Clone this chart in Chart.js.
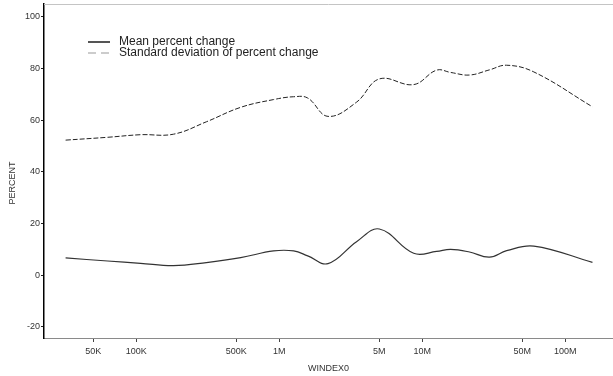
<!DOCTYPE html>
<html lang="en">
<head>
    <meta charset="UTF-8">
    <title>Percent change by WINDEX0</title>
    <script src="https://cdn.jsdelivr.net/npm/chart.js"></script>
    <style>
        body { margin: 0; background: #fff; }
        #wrap { width: 613px; height: 376px; }
    </style>
</head>
<body>
    <div id="wrap">
        <canvas id="myChart" width="613" height="376"></canvas>
    </div>

    <script>
        // Data
        const windex = [32000, 63000, 107000, 182000, 309000, 537000, 912000, 1260000, 1580000, 2190000,
                        3470000, 5010000, 8710000, 12600000, 15800000, 21400000, 29500000, 38900000, 60300000, 155000000];
        const meanChange = [6.7, 5.5, 4.6, 3.7, 4.9, 6.8, 9.4, 9.4, 7.5, 4.5,
                            13, 17.9, 8.5, 9.2, 10, 9, 7, 9.5, 11.3, 5];
        const sdChange = [52.3, 53.4, 54.4, 54.6, 59.4, 65, 68, 69.1, 68.6, 61.5,
                          67, 76, 73.8, 79.4, 78.5, 77.5, 79.5, 81.3, 78.7, 65.2];

        const xTicks = [50000, 100000, 500000, 1000000, 5000000, 10000000, 50000000, 100000000];
        const xTickLabels = ['50K', '100K', '500K', '1M', '5M', '10M', '50M', '100M'];
        const yTicks = [-20, 0, 20, 40, 60, 80, 100];

        const seriesNames = ['Mean percent change', 'Standard deviation of percent change'];

        const FONT = '"Liberation Sans", Arial, sans-serif';

        // Titles and legend drawn on top of the plot
        const decorPlugin = {
            id: 'decor',
            afterDraw(chart) {
                const ctx = chart.ctx;
                const area = chart.chartArea;
                ctx.save();

                // top border line
                ctx.strokeStyle = '#c4c4c4';
                ctx.lineWidth = 1;
                ctx.beginPath();
                ctx.moveTo(area.left, area.top + 0.5);
                ctx.lineTo(area.right, area.top + 0.5);
                ctx.stroke();

                // axis titles
                ctx.fillStyle = '#333';
                ctx.font = '9px ' + FONT;
                ctx.textAlign = 'center';
                ctx.textBaseline = 'middle';
                ctx.fillText('WINDEX0', (area.left + area.right) / 2, 369);
                ctx.translate(13, 183);
                ctx.rotate(-Math.PI / 2);
                ctx.fillText('PERCENT', 0, 0);
                ctx.setTransform(1, 0, 0, 1, 0, 0);

                // legend
                const lx = 88, ly = 42;
                ctx.lineWidth = 2;
                ctx.strokeStyle = '#555';
                ctx.beginPath();
                ctx.moveTo(lx, ly);
                ctx.lineTo(lx + 22, ly);
                ctx.stroke();
                ctx.lineWidth = 1;
                ctx.strokeStyle = '#999';
                ctx.setLineDash([8, 5]);
                ctx.beginPath();
                ctx.moveTo(lx, ly + 11);
                ctx.lineTo(lx + 22, ly + 11);
                ctx.stroke();
                ctx.setLineDash([]);

                ctx.font = '12px ' + FONT;
                ctx.fillStyle = '#222';
                ctx.textAlign = 'left';
                ctx.fillText(seriesNames[0], 119, ly);
                ctx.fillText(seriesNames[1], 119, ly + 11);
                ctx.restore();
            }
        };

        const ctx = document.getElementById('myChart').getContext('2d');
        new Chart(ctx, {
            type: 'line',
            data: {
                datasets: [
                    {
                        label: seriesNames[0],
                        data: windex.map((x, i) => ({ x: x, y: meanChange[i] })),
                        borderColor: '#333',
                        borderWidth: 1.2,
                        pointRadius: 0,
                        tension: 0.4,
                        fill: false
                    },
                    {
                        label: seriesNames[1],
                        data: windex.map((x, i) => ({ x: x, y: sdChange[i] })),
                        borderColor: '#222',
                        borderWidth: 1,
                        borderDash: [5, 2],
                        pointRadius: 0,
                        tension: 0.4,
                        fill: false
                    }
                ]
            },
            options: {
                responsive: false,
                animation: false,
                layout: { padding: { top: 4, right: 0, left: 0, bottom: 0 } },
                plugins: {
                    legend: { display: false },
                    tooltip: { enabled: false }
                },
                scales: {
                    x: {
                        type: 'logarithmic',
                        min: 22600,
                        max: 215800000,
                        afterBuildTicks: scale => { scale.ticks = xTicks.map(v => ({ value: v })); },
                        afterFit: scale => {
                            scale.height = 38;
                            scale.paddingLeft = 0;
                            scale.paddingRight = 0;
                        },
                        grid: { drawOnChartArea: false, drawTicks: true, tickLength: 4, color: '#444' },
                        border: { color: '#8a8a8a', width: 1 },
                        ticks: {
                            autoSkip: false,
                            maxRotation: 0,
                            padding: 4,
                            color: '#333',
                            font: { family: FONT, size: 9 },
                            callback: (v, i) => xTickLabels[i]
                        }
                    },
                    y: {
                        min: -24.3,
                        max: 105,
                        afterBuildTicks: scale => { scale.ticks = yTicks.map(v => ({ value: v })); },
                        afterFit: scale => {
                            scale.width = 44;
                            scale.paddingTop = 0;
                            scale.paddingBottom = 0;
                        },
                        grid: { drawOnChartArea: false, drawTicks: true, tickLength: 3, color: '#222' },
                        border: { color: '#000', width: 1.5 },
                        ticks: {
                            padding: 1,
                            color: '#333',
                            font: { family: FONT, size: 9 }
                        }
                    }
                }
            },
            plugins: [decorPlugin]
        });
    </script>
</body>
</html>
